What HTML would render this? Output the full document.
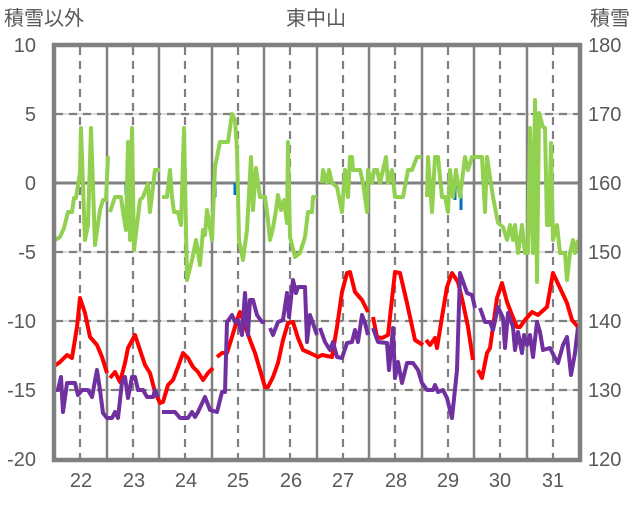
<!DOCTYPE html><html><head><meta charset="utf-8"><style>
body{margin:0;background:#fff;}
svg text{font-family:"Liberation Sans","Noto Sans CJK JP",sans-serif;fill:#595959;font-size:20px;}
</style></head><body>
<svg width="636" height="501" xmlns="http://www.w3.org/2000/svg">
<rect width="636" height="501" fill="#fff"/>
<g stroke="#d0d0d0" stroke-width="1.5">
<line x1="55" y1="114" x2="580" y2="114"/><line x1="55" y1="252" x2="580" y2="252"/><line x1="55" y1="321" x2="580" y2="321"/><line x1="55" y1="390" x2="580" y2="390"/>
</g>
<g stroke="#808080" stroke-width="2.2" stroke-dasharray="8,6">
<line x1="55" y1="114" x2="580" y2="114"/><line x1="55" y1="252" x2="580" y2="252"/><line x1="55" y1="321" x2="580" y2="321"/><line x1="55" y1="390" x2="580" y2="390"/>
<line x1="80" y1="47" x2="80" y2="459"/><line x1="133" y1="47" x2="133" y2="459"/><line x1="185" y1="47" x2="185" y2="459"/><line x1="238" y1="47" x2="238" y2="459"/><line x1="290" y1="47" x2="290" y2="459"/><line x1="343" y1="47" x2="343" y2="459"/><line x1="395" y1="47" x2="395" y2="459"/><line x1="448" y1="47" x2="448" y2="459"/><line x1="500" y1="47" x2="500" y2="459"/><line x1="553" y1="47" x2="553" y2="459"/>
</g>
<g stroke="#808080" stroke-width="2.5">
<line x1="107" y1="47" x2="107" y2="459"/><line x1="159" y1="47" x2="159" y2="459"/><line x1="212" y1="47" x2="212" y2="459"/><line x1="264" y1="47" x2="264" y2="459"/><line x1="317" y1="47" x2="317" y2="459"/><line x1="369" y1="47" x2="369" y2="459"/><line x1="422" y1="47" x2="422" y2="459"/><line x1="474" y1="47" x2="474" y2="459"/><line x1="527" y1="47" x2="527" y2="459"/>
<line x1="55" y1="183" x2="580" y2="183" stroke-width="3"/>
</g>
<g stroke="#0070c0" stroke-width="3">
<line x1="126" y1="183" x2="126" y2="195"/><line x1="215" y1="183" x2="215" y2="197"/><line x1="235" y1="183" x2="235" y2="195"/><line x1="366" y1="183" x2="366" y2="197"/><line x1="455" y1="183" x2="455" y2="200"/><line x1="461" y1="183" x2="461" y2="210"/>
</g>
<g fill="none" stroke-width="4" stroke-linejoin="round">
<polyline stroke="#92d050" points="55,240 60,237 64,228 68,212 72,212 74,198 76,198 78,185 80,172 81,128 85,240 88,225 91,128 95,245 100,210 103,200 106,200 108,156"/>
<polyline stroke="#92d050" points="110,212 115,197 121,197 123,212 126,230 128,142 130,240 132,128 134,250 137,225 140,200 143,197 148,184 150,212 155,170 160,170"/>
<polyline stroke="#92d050" points="162,197 167,197 170,170 172,197 174,212 178,212 181,225 184,128 187,280 192,260 196,240 200,265 203,230 205,235 207,210 212,240 215,167 220,142 228,142 232,114 235,120 237,150 239,240 243,260 247,230 251,157 253,210 256,168 260,197 265,197 268,220 270,240 273,228 276,210 278,195 281,210 284,200 287,223 288,142 290,237 295,257 300,253 305,237 308,212 312,212 313,197 317,197"/>
<polyline stroke="#92d050" points="322,183 323,170 327,183 329,170 332,183 337,187 342,212 345,170 348,197 350,157 352,157 353,170 360,170 363,183 367,212 368,170 372,183 374,170 377,170 380,183 383,170 386,157 388,183 392,170 395,197 403,197 408,170 412,170 417,157 422,157"/>
<polyline stroke="#92d050" points="427,197 428,157 432,212 435,157 438,157 442,197 445,197 448,212 450,170 453,197 456,170 460,197 465,157 468,170 472,157 482,157 485,212 487,157 493,197 498,223 503,227 507,240 510,225 513,240 515,225 518,253 522,225 525,253 528,253 530,128 533,253 535,100 537,282 539,113 543,127 545,128 547,225 549,225 551,143 553,240 557,225 560,253 565,253 567,280 570,253 573,240 575,253 578,240"/>
<polyline stroke="#ff0000" points="53,367 60,362 67,355 72,358 77,327 80,298 85,313 90,337 97,345 102,357 107,373"/>
<polyline stroke="#ff0000" points="110,378 115,372 120,382 125,363 128,348 135,335 140,350 145,365 150,373 155,392 160,403 163,402 168,385 173,380 178,367 183,353 188,358 193,367 198,372 203,380 208,373 213,368"/>
<polyline stroke="#ff0000" points="217,357 222,353 227,353 232,337 237,320 240,312 243,320 250,340 255,353 260,370 265,387 268,387 273,377 278,363 283,340 288,323 293,322 298,338 303,350 310,353 318,357 322,355 332,357 337,327 342,292 347,273 350,272 355,292 362,300 368,312"/>
<polyline stroke="#ff0000" points="373,317 377,337 382,338 388,335 395,272 400,273 407,303 415,340 423,345"/>
<polyline stroke="#ff0000" points="426,340 430,345 435,338 437,348 442,317 447,287 452,273 458,282 463,303 468,327 473,360"/>
<polyline stroke="#ff0000" points="478,370 482,378 487,353 490,348 493,327 497,298 502,283 507,302 512,315 517,327 520,327 525,320 532,312 538,315 547,307 553,273 560,288 567,303 572,320 578,327"/>
<polyline stroke="#7030a0" points="53,390 58,390 61,377 63,412 67,383 75,383 78,395 82,390 88,390 92,397 97,370 100,390 103,413 107,418 112,418 115,412 118,418 122,382 125,377 128,398 132,377 135,377 138,390 143,390 147,397 153,397 155,390 158,397"/>
<polyline stroke="#7030a0" points="162,412 175,412 180,418 188,418 192,412 195,417 198,412 205,397 210,410 217,412 222,392 225,392 227,322 232,315 235,322 238,320 242,335 245,293 248,335 250,300 253,300 257,315 262,322 265,322"/>
<polyline stroke="#7030a0" points="270,328 273,335 278,322 283,320 287,293 289,317 293,280 296,293 298,287 305,287 307,342 310,315 317,335"/>
<polyline stroke="#7030a0" points="320,328 325,342 330,350 333,342 337,357 342,358 347,343 352,342 355,330 358,342 362,315 365,323 368,335"/>
<polyline stroke="#7030a0" points="373,328 378,342 387,343 389,370 393,328 395,378 398,362 402,383 407,363 413,363 418,370 422,383 427,390 433,390 435,385 438,392 443,390 447,398 452,418 457,370 460,273 467,293 472,295 475,308"/>
<polyline stroke="#7030a0" points="480,308 485,322 490,322 493,330 498,307 503,318 505,348 508,313 513,327 515,350 518,332 522,353 524,335 527,345 530,335 533,357 537,322 540,332 543,350 550,348 555,358 558,363 563,345 567,337 571,375 575,353 578,327"/>
</g>
<rect x="54" y="45" width="526" height="415" fill="none" stroke="#808080" stroke-width="4.5"/>
<g text-anchor="end"><text x="36" y="52">10</text><text x="36" y="121">5</text><text x="36" y="190">0</text><text x="36" y="259">-5</text><text x="36" y="328">-10</text><text x="36" y="397">-15</text><text x="36" y="466">-20</text></g>
<g><text x="588" y="52">180</text><text x="588" y="121">170</text><text x="588" y="190">160</text><text x="588" y="259">150</text><text x="588" y="328">140</text><text x="588" y="397">130</text><text x="588" y="466">120</text></g>
<g text-anchor="middle"><text x="81" y="487">22</text><text x="134" y="487">23</text><text x="186" y="487">24</text><text x="238" y="487">25</text><text x="291" y="487">26</text><text x="343" y="487">27</text><text x="396" y="487">28</text><text x="448" y="487">29</text><text x="500" y="487">30</text><text x="553" y="487">31</text>
<text x="316" y="25">東中山</text></g>
<text x="4" y="25">積雪以外</text><text x="590" y="25">積雪</text>
</svg></body></html>
